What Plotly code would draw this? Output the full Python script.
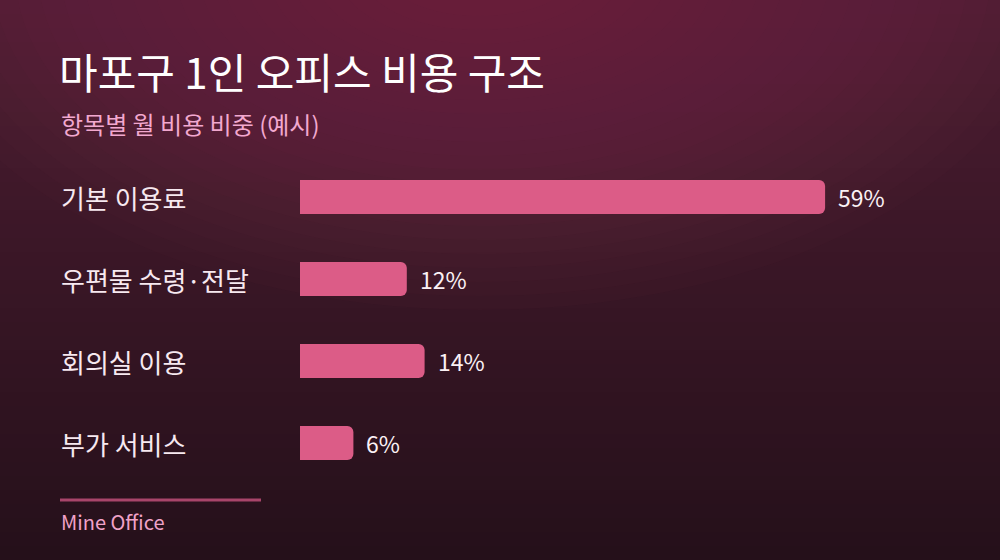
import plotly.graph_objects as go

# data
categories = ["기본 이용료", "우편물 수령·전달", "회의실 이용", "부가 서비스"]
shares = [59, 12, 14, 6]
value_labels = ["59%", "12%", "14%", "6%"]

title_text = "마포구 1인 오피스 비용 구조"
subtitle_text = "항목별 월 비용 비중 (예시)"
source_text = "Mine Office"

W, H = 1000, 560
ML, MR, MT, MB = 300, 40, 156, 76
PW, PH = W - ML - MR, H - MT - MB
FONT = "Noto Sans CJK KR, Noto Sans, sans-serif"
BAR_COLOR = "#dc5c87"


def px_x(px):
    return (px - ML) / PW


def px_y(py):
    return (H - MB - py) / PH


def mix(c1, c2, t):
    a = [int(c1[i:i + 2], 16) for i in (1, 3, 5)]
    b = [int(c2[i:i + 2], 16) for i in (1, 3, 5)]
    return "#" + "".join(f"{round(a[k] + (b[k] - a[k]) * t):02x}" for k in range(3))


shapes = []
# vertical background gradient
steps = 40
for i in range(steps):
    y0 = i * H / steps
    y1 = (i + 1) * H / steps + 1
    shapes.append(dict(type="rect", xref="paper", yref="paper", layer="below",
                       x0=px_x(-2), x1=px_x(W + 2), y0=px_y(y1), y1=px_y(y0),
                       fillcolor=mix("#4c1c31", "#25101a", i / (steps - 1)),
                       line_width=0))
# soft glow near the top centre
for k in range(22):
    rx = 580 - k * 23
    ry = 340 - k * 14
    cx, cy = 480, -30
    shapes.append(dict(type="circle", xref="paper", yref="paper", layer="below",
                       x0=px_x(cx - rx), x1=px_x(cx + rx),
                       y0=px_y(cy + ry), y1=px_y(cy - ry),
                       fillcolor="#84385a", opacity=0.035, line_width=0))
# divider above source
shapes.append(dict(type="line", xref="paper", yref="paper",
                   x0=px_x(60), x1=px_x(261), y0=px_y(500), y1=px_y(500),
                   line=dict(color="#a8456a", width=3)))

fig = go.Figure()
fig.add_trace(go.Bar(
    x=shares,
    y=list(range(len(categories))),
    orientation="h",
    width=0.415,
    marker=dict(color=BAR_COLOR, line_width=0),
    hovertext=categories,
    hoverinfo="text+x",
))

annotations = []
for i, (cat, v, lab) in enumerate(zip(categories, shares, value_labels)):
    annotations.append(dict(x=px_x(59), y=i, xref="paper", yref="y", text=cat,
                            showarrow=False, xanchor="left", yanchor="middle",
                            font=dict(family=FONT, size=26, color="#f7e9f0")))
    annotations.append(dict(x=v, y=i, xref="x", yref="y", text=lab, xshift=11,
                            showarrow=False, xanchor="left", yanchor="middle",
                            font=dict(family=FONT, size=23, color="#fbf1f5")))

annotations += [
    dict(x=px_x(57), y=px_y(70), xref="paper", yref="paper", text=title_text,
         showarrow=False, xanchor="left", yanchor="middle",
         font=dict(family=FONT, size=42, color="#ffffff")),
    dict(x=px_x(59), y=px_y(123), xref="paper", yref="paper", text=subtitle_text,
         showarrow=False, xanchor="left", yanchor="middle",
         font=dict(family=FONT, size=24, color="#f2a8cf")),
    dict(x=px_x(59), y=px_y(521), xref="paper", yref="paper", text=source_text,
         showarrow=False, xanchor="left", yanchor="middle",
         font=dict(family=FONT, size=20, color="#f0a2c8")),
]

fig.update_layout(
    width=W, height=H,
    margin=dict(l=ML, r=MR, t=MT, b=MB, pad=0),
    paper_bgcolor="#2a111c",
    plot_bgcolor="rgba(0,0,0,0)",
    barcornerradius=6,
    showlegend=False,
    shapes=shapes,
    annotations=annotations,
    xaxis=dict(range=[0, PW / 8.9], visible=False, fixedrange=True),
    yaxis=dict(range=[len(categories) - 0.5, -0.5], visible=False, fixedrange=True),
    font=dict(family=FONT),
)

fig.write_html("out.html", config={"displayModeBar": False},
               post_script="document.body.style.margin='0';")
